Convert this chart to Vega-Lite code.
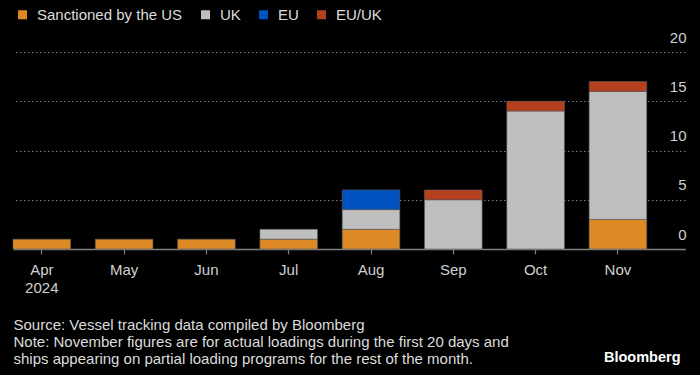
{
  "$schema": "https://vega.github.io/schema/vega-lite/v6.json",
  "width": 672,
  "height": 197,
  "autosize": {"type": "none"},
  "padding": {"left": 13, "top": 52, "right": 15, "bottom": 126},
  "background": "#000000",
  "config": {
    "view": {"stroke": null},
    "font": "Liberation Sans",
    "axis": {"labelFont": "Liberation Sans", "titleFont": "Liberation Sans"},
    "legend": {"labelFont": "Liberation Sans"}
  },
  "data": {
    "values": [
      {"month": "Apr", "category": "Sanctioned by the US", "vessels": 1},
      {"month": "May", "category": "Sanctioned by the US", "vessels": 1},
      {"month": "Jun", "category": "Sanctioned by the US", "vessels": 1},
      {"month": "Jul", "category": "Sanctioned by the US", "vessels": 1},
      {"month": "Jul", "category": "UK", "vessels": 1},
      {"month": "Aug", "category": "Sanctioned by the US", "vessels": 2},
      {"month": "Aug", "category": "UK", "vessels": 2},
      {"month": "Aug", "category": "EU", "vessels": 2},
      {"month": "Sep", "category": "UK", "vessels": 5},
      {"month": "Sep", "category": "EU/UK", "vessels": 1},
      {"month": "Oct", "category": "UK", "vessels": 14},
      {"month": "Oct", "category": "EU/UK", "vessels": 1},
      {"month": "Nov", "category": "Sanctioned by the US", "vessels": 3},
      {"month": "Nov", "category": "UK", "vessels": 13},
      {"month": "Nov", "category": "EU/UK", "vessels": 1}
    ]
  },
  "transform": [
    {"calculate": "indexof(['Sanctioned by the US', 'UK', 'EU', 'EU/UK'], datum.category)", "as": "stackRank"}
  ],
  "mark": {"type": "bar", "stroke": "#5a5a5a", "strokeWidth": 0.6},
  "encoding": {
    "x": {
      "field": "month",
      "type": "ordinal",
      "sort": ["Apr", "May", "Jun", "Jul", "Aug", "Sep", "Oct", "Nov"],
      "scale": {"paddingInner": 0.3, "paddingOuter": 0.2325, "align": 0},
      "axis": {
        "labelAngle": 0,
        "labelFontSize": 15,
        "labelColor": "#d0d0d0",
        "labelPadding": 8,
        "labelLineHeight": 18,
        "labelExpr": "datum.label == 'Apr' ? ['Apr', '2024'] : datum.label",
        "domainColor": "#808080",
        "domainWidth": 1.5,
        "tickColor": "#808080",
        "tickSize": 5,
        "tickWidth": 1.2,
        "grid": false,
        "title": ["Source: Vessel tracking data compiled by Bloomberg", "Note: November figures are for actual loadings during the first 20 days and", "ships appearing on partial loading programs for the rest of the month."],
        "titleFontSize": 15,
        "titleFontWeight": "normal",
        "titleColor": "#dcdcdc",
        "titleAlign": "left",
        "titleBaseline": "top",
        "titleLineHeight": 17,
        "titleX": 0,
        "titleY": 68
      }
    },
    "y": {
      "field": "vessels",
      "type": "quantitative",
      "aggregate": "sum",
      "scale": {"domain": [0, 20], "nice": false},
      "axis": {
        "orient": "right",
        "values": [0, 5, 10, 15, 20],
        "domain": false,
        "ticks": false,
        "tickSize": 0,
        "labelAlign": "right",
        "labelBaseline": "alphabetic",
        "labelPadding": 1,
        "labelOffset": -10,
        "labelFontSize": 15,
        "labelColor": "#d0d0d0",
        "gridColor": "#7a7a7a",
        "gridDash": [1.5, 2.5],
        "gridWidth": 1,
        "title": "Bloomberg",
        "titleAngle": 0,
        "titleX": -5,
        "titleY": 305,
        "titleAlign": "right",
        "titleBaseline": "middle",
        "titleFontSize": 14.5,
        "titleFontWeight": "bold",
        "titleColor": "#ffffff"
      }
    },
    "color": {
      "field": "category",
      "type": "nominal",
      "sort": ["Sanctioned by the US", "UK", "EU", "EU/UK"],
      "scale": {
        "domain": ["Sanctioned by the US", "UK", "EU", "EU/UK"],
        "range": ["#dd8a26", "#bfbfbf", "#0052be", "#b4401e"]
      },
      "legend": {
        "orient": "none",
        "legendX": 2,
        "legendY": -45,
        "direction": "horizontal",
        "title": null,
        "symbolType": "square",
        "symbolSize": 81,
        "symbolStrokeWidth": 0,
        "labelFontSize": 15,
        "labelColor": "#dcdcdc",
        "labelOffset": 7,
        "columnPadding": 15
      }
    },
    "order": {"field": "stackRank", "type": "quantitative", "sort": "ascending"}
  }
}
